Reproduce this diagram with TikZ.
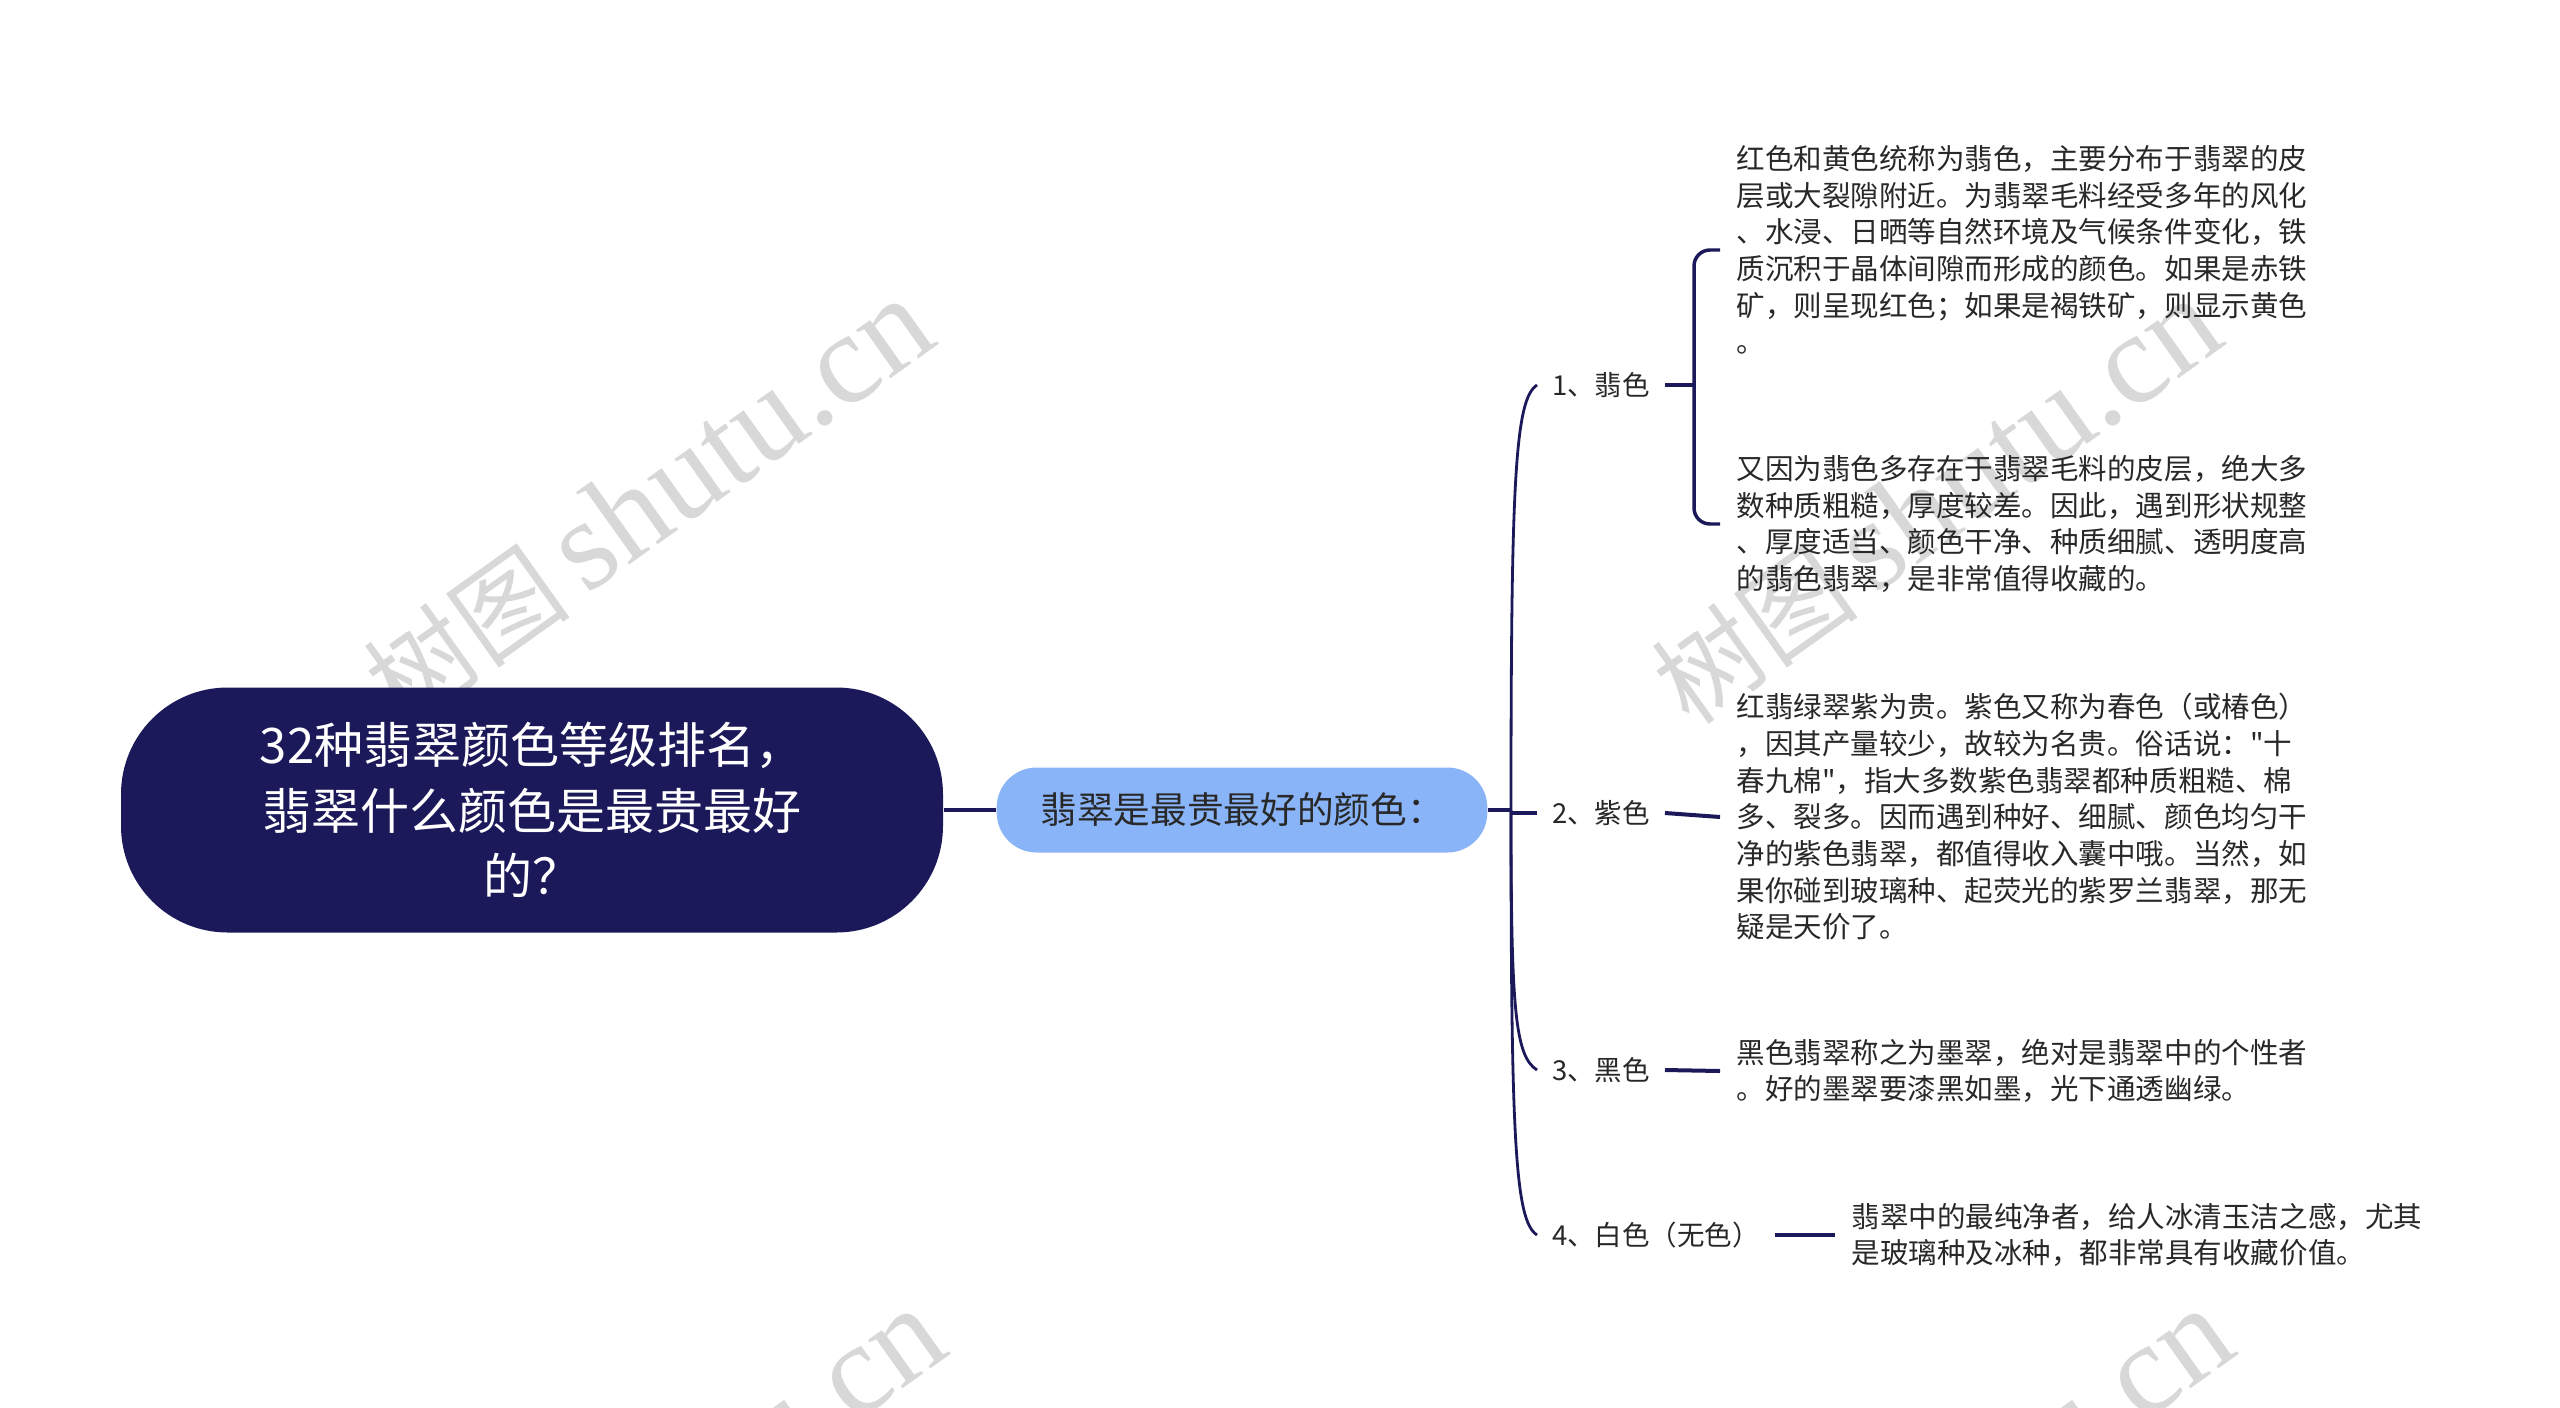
\documentclass[tikz,border=0pt]{standalone}
\usepackage{fontspec}
\setmainfont{Noto Sans CJK SC}[Ligatures=TeXOff]
\newfontfamily\wmlatin{Liberation Serif}
\usetikzlibrary{calc}

\definecolor{rootnavy}{RGB}{27,25,89}
\definecolor{subblue}{RGB}{138,180,248}
\definecolor{wmgray}{RGB}{216,216,216}
\definecolor{inkgray}{RGB}{40,40,40}

\newcommand{\wmtext}{{\fontsize{78pt}{78pt}\selectfont 树图}\hspace{14pt}{\wmlatin shutu.cn}}

\tikzset{every picture/.style={line width=0.75pt}}
\tikzset{
  rootbox/.style={fill=rootnavy, text=white, rounded corners=80pt, minimum width=616.5pt, minimum height=183.75pt, align=center, inner sep=0pt, font=\fontsize{36.75pt}{49pt}\selectfont},
  subbox/.style={fill=subblue, text=inkgray, rounded corners=30pt, minimum width=368pt, minimum height=63.75pt, inner sep=0pt, font=\fontsize{27.5pt}{32pt}\selectfont},
  itemlbl/.style={anchor=west, inner xsep=11pt, inner ysep=0pt, text=inkgray, font=\fontsize{20.6pt}{26pt}\selectfont},
  itemtxt/.style={anchor=west, inner xsep=12pt, inner ysep=0pt, align=left, text=inkgray, font=\fontsize{21.4pt}{27.5pt}\selectfont},
  trunk/.style={draw=rootnavy, line width=3pt},
  spine/.style={draw=rootnavy, line width=2.1pt},
  twig/.style={draw=rootnavy, line width=3pt},
  wmark/.style={text=wmgray, rotate=35.5, inner sep=0pt, font=\fontsize{97pt}{97pt}\selectfont}
}

\begin{document}
\begin{tikzpicture}[x=0.75pt,y=0.75pt,yscale=-1,xscale=1]
	\useasboundingbox (0,0) rectangle (2560,1407);
	\fill[white] (0,0) rectangle (2560,1407);

	%Watermarks
	\begin{scope}
	\clip (0,0) rectangle (2560,1407);
	\node[wmark] (wmA) at (648,502) {\wmtext};
	\node[wmark] (wmB) at (1936,502) {\wmtext};
	\node[wmark] (wmC) at (660,1512) {\wmtext};
	\node[wmark] (wmD) at (1948,1512) {\wmtext};
	\end{scope}

	%Shape: Rounded Rect [root]
	\node[rootbox] (root) at (532,810) {32种翡翠颜色等级排名，\\翡翠什么颜色是最贵最好\\的？};
	%Shape: Rounded Rect [sub]
	\node[subbox] (sub) at (1242,810) {翡翠是最贵最好的颜色：};
	\coordinate (jn) at (1511,810);

	%Labels
	\node[itemlbl] (lab1) at (1537,385) {1、翡色};
	\node[itemlbl] (lab2) at (1537,813) {2、紫色};
	\node[itemlbl] (lab3) at (1537,1070) {3、黑色};
	\node[itemlbl] (lab4) at (1537,1235) {4、白色（无色）};

	%Text blocks
	\node[itemtxt] (fei1) at (1720,250) {红色和黄色统称为翡色，主要分布于翡翠的皮\\层或大裂隙附近。为翡翠毛料经受多年的风化\\、水浸、日晒等自然环境及气候条件变化，铁\\质沉积于晶体间隙而形成的颜色。如果是赤铁\\矿，则呈现红色；如果是褐铁矿，则显示黄色\\。};
	\node[itemtxt] (fei2) at (1720,524) {又因为翡色多存在于翡翠毛料的皮层，绝大多\\数种质粗糙，厚度较差。因此，遇到形状规整\\、厚度适当、颜色干净、种质细腻、透明度高\\的翡色翡翠，是非常值得收藏的。};
	\node[itemtxt] (zi) at (1720,817) {红翡绿翠紫为贵。紫色又称为春色（或椿色）\\，因其产量较少，故较为名贵。俗话说："十\\春九棉"，指大多数紫色翡翠都种质粗糙、棉\\多、裂多。因而遇到种好、细腻、颜色均匀干\\净的紫色翡翠，都值得收入囊中哦。当然，如\\果你碰到玻璃种、起荧光的紫罗兰翡翠，那无\\疑是天价了。};
	\node[itemtxt] (hei) at (1720,1071) {黑色翡翠称之为墨翠，绝对是翡翠中的个性者\\。好的墨翠要漆黑如墨，光下通透幽绿。};
	\node[itemtxt] (bai) at (1835,1235) {翡翠中的最纯净者，给人冰清玉洁之感，尤其\\是玻璃种及冰种，都非常具有收藏价值。};

	%Straight Lines
	\draw[trunk] (root) -- (sub);
	\draw[trunk] (sub.east) -- (jn);
	\draw[twig] (jn |- lab2.west) -- (lab2.west);
	%Curves
	\draw[spine] (jn) .. controls +(0,-330) and +(-22,14) .. (lab1.west);
	\draw[spine] (jn) .. controls +(0,200) and +(-22,-14) .. (lab3.west);
	\draw[spine] (jn) .. controls +(0,330) and +(-22,-14) .. (lab4.west);

	%Bracket
	\coordinate (brk) at ($(fei1.west)+(-26,0)$);
	\draw[spine, line width=2.6pt, rounded corners=12pt] (fei1.west) -- (brk) |- (fei2.west);
	\draw[twig] (lab1.east) -- (lab1.east -| brk);
	\draw[twig] (lab2.east) -- (zi.west);
	\draw[twig] (lab3.east) -- (hei.west);
	\draw[twig] (lab4.east) -- (bai.west);

\end{tikzpicture}
\end{document}
